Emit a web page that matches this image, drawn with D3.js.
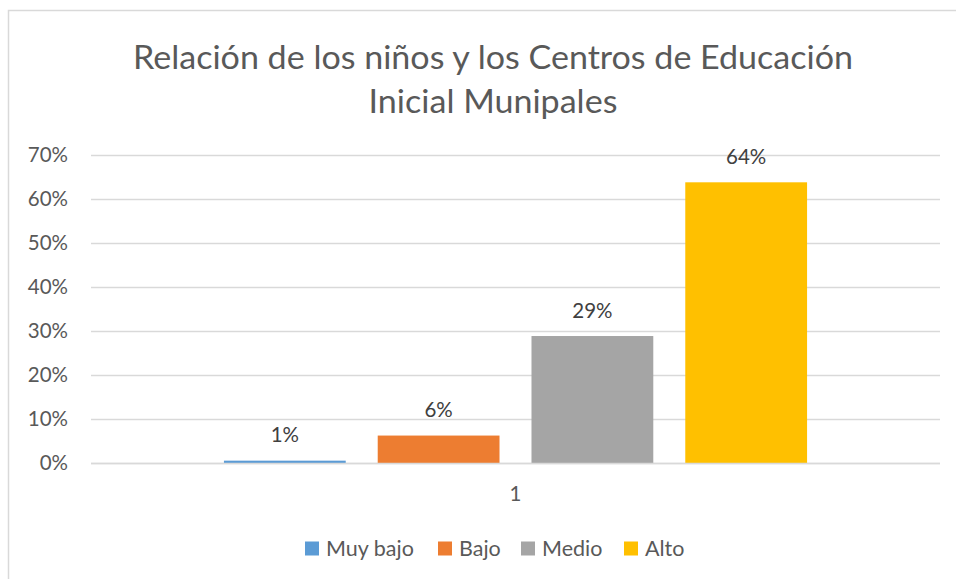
<!DOCTYPE html>
<html><head><meta charset="utf-8">
<script src="https://cdn.jsdelivr.net/npm/d3@7"></script>
<style>body{margin:0;background:#fff}svg{display:block}text{font-family:Lato,"Open Sans",sans-serif}</style>
</head><body>
<svg id="c" width="956" height="579"></svg>
<script>
const titleLines = ["Relación de los niños y los Centros de Educación", "Inicial Munipales"];
const categories = ["1"];
const seriesNames = ["Muy bajo", "Bajo", "Medio", "Alto"];
const seriesValues = [0.006, 0.063, 0.289, 0.638];
const seriesLabels = ["1%", "6%", "29%", "64%"];
const colors = ["#5B9BD5", "#ED7D31", "#A5A5A5", "#FFC000"];
const yTicks = [0, 0.1, 0.2, 0.3, 0.4, 0.5, 0.6, 0.7];

const svg = d3.select("#c");
const W = 956, H = 579;
const FS = 20.5;
svg.append("rect").attr("x", 8.5).attr("y", 10.5).attr("width", W + 20).attr("height", H + 20)
  .attr("fill", "#fff").attr("stroke", "#D9D9D9").attr("stroke-width", 1.5);

// title
const tg = svg.append("g");
const tt = titleLines.map((t, i) => tg.append("text").attr("x", 493).attr("y", 69 + i * 44)
  .attr("text-anchor", "middle").attr("fill", "#595959").attr("font-size", 33).text(t));
const w0 = tt[0].node().getComputedTextLength();
const sx = 720 / w0;
tt.forEach(t => {
  const w = t.node().getComputedTextLength();
  t.attr("textLength", w * sx).attr("lengthAdjust", "spacingAndGlyphs");
});

const plot = {left: 91, right: 940, top: 155, bottom: 463.3};
const y = d3.scaleLinear().domain([0, 0.7]).range([plot.bottom, plot.top]);
const x0 = d3.scaleBand().domain(categories).range([plot.left, plot.right]).paddingInner(0).paddingOuter(0.156);
const x1 = d3.scaleBand().domain(seriesNames).range([0, x0.bandwidth()]).padding(0.208);

// gridlines
svg.append("g").selectAll("line").data(yTicks).join("line")
  .attr("x1", plot.left).attr("x2", plot.right)
  .attr("y1", d => Math.round(y(d)) + 0.5).attr("y2", d => Math.round(y(d)) + 0.5)
  .attr("stroke", "#D9D9D9").attr("stroke-width", 1.3);

// y axis labels
const yAxis = d3.axisLeft(y).tickValues(yTicks).tickFormat(d3.format(".0%")).tickSize(0).tickPadding(0);
const ya = svg.append("g").attr("transform", `translate(68,0)`).call(yAxis);
ya.select(".domain").remove();
ya.selectAll("text").attr("font-size", FS).attr("fill", "#595959").attr("font-family", "Lato,'Open Sans',sans-serif");

// bars
const bars = svg.append("g");
categories.forEach(cat => {
  seriesNames.forEach((s, i) => {
    const v = seriesValues[i];
    const bx = x0(cat) + x1(s);
    bars.append("rect").attr("x", bx).attr("width", x1.bandwidth())
      .attr("y", y(v)).attr("height", y(0) - y(v)).attr("fill", colors[i]);
    bars.append("text").attr("x", bx + x1.bandwidth() / 2).attr("y", y(v) - 18.5)
      .attr("text-anchor", "middle").attr("font-size", FS).attr("fill", "#404040").text(seriesLabels[i]);
  });
});

// baseline
svg.append("line").attr("x1", plot.left).attr("x2", plot.right)
  .attr("y1", Math.round(y(0)) + 0.5).attr("y2", Math.round(y(0)) + 0.5)
  .attr("stroke", "#D9D9D9").attr("stroke-width", 1.3);

// x axis category label
const xAxis = d3.axisBottom(x0).tickSize(0).tickPadding(0);
const xa = svg.append("g").attr("transform", `translate(0,${plot.bottom + 23})`).call(xAxis);
xa.select(".domain").remove();
xa.selectAll("text").attr("font-size", FS).attr("fill", "#595959").attr("font-family", "Lato,'Open Sans',sans-serif").attr("dy", "0.71em");

// legend
const legendX = [305, 438, 521, 624];
const lg = svg.append("g");
seriesNames.forEach((s, i) => {
  lg.append("rect").attr("x", legendX[i]).attr("y", 541.5).attr("width", 14).attr("height", 14).attr("fill", colors[i]);
  lg.append("text").attr("x", legendX[i] + 21).attr("y", 555.5).attr("font-size", FS + 1).attr("fill", "#595959").text(s);
});
</script>
</body></html>
